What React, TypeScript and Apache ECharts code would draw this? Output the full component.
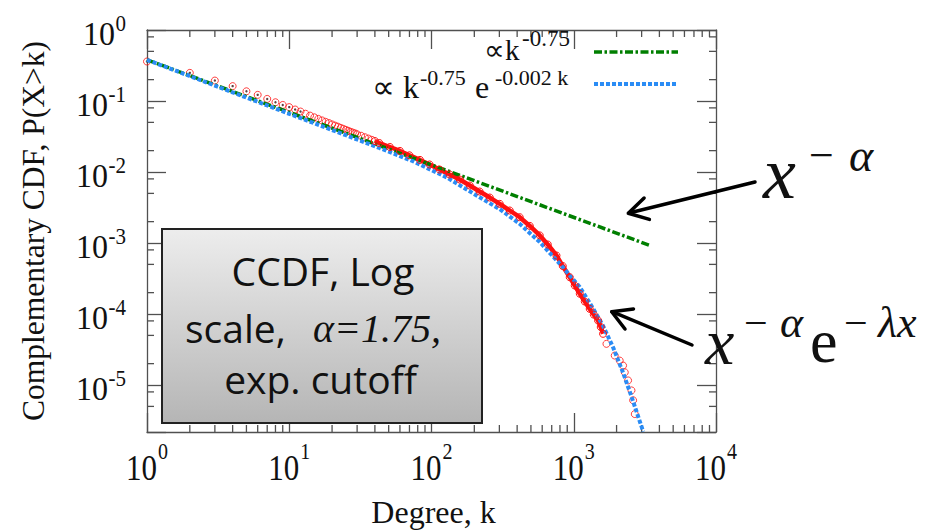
import { useEffect, useRef } from "react";
import * as echarts from "echarts";

// ---- axis extents and tick values ----
const X_MIN = 1;
const X_MAX = 10000;
const Y_MIN = 2.18e-6;
const Y_MAX = 1;

const xMajorTicks = [1, 10, 100, 1000, 10000];
const yMajorTicks = [1, 0.1, 0.01, 0.001, 1e-4, 1e-5];
const xMinorTicks = [2, 3, 4, 5, 6, 7, 8, 9, 20, 30, 40, 50, 60, 70, 80, 90, 200, 300, 400, 500, 600, 700, 800, 900, 2000, 3000, 4000, 5000, 6000, 7000, 8000, 9000];
const yMinorTicks = [0.8, 0.5, 0.2, 0.08, 0.05, 0.02, 0.008, 0.005, 0.002, 8e-4, 5e-4, 2e-4, 8e-5, 5e-5, 2e-5, 8e-6, 5e-6];

// ---- empirical CCDF (red circles) ----
const sparseDegree = [1, 2, 3, 4, 5, 6, 7, 8, 9, 10, 11, 12];
const sparseCcdf = [0.36, 0.249, 0.194, 0.162, 0.137, 0.122, 0.107, 0.096, 0.088, 0.082, 0.0759, 0.0711];

const chainDegree = [13, 14, 15, 16, 17, 18, 19, 20, 21, 22, 23, 24, 25, 26, 27, 28, 29, 30, 32, 34, 36, 38];
const chainCcdf = [0.0662, 0.0623, 0.0589, 0.056, 0.0533, 0.0509, 0.0489, 0.0468, 0.045, 0.0435, 0.0418, 0.0405, 0.0392, 0.038, 0.0368, 0.0359, 0.035, 0.034, 0.0324, 0.0309, 0.0296, 0.0284];

const denseDegree = [40, 43, 51, 60, 70, 83, 97, 114, 134, 158, 186, 218, 257, 302, 355, 417, 491, 577, 657, 756, 837, 937, 1016, 1102, 1195, 1295, 1382, 1482, 1548, 1607];
const denseCcdf = [0.0273, 0.0256, 0.0225, 0.0198, 0.0172, 0.0148, 0.01276, 0.01084, 0.00923, 0.00784, 0.00645, 0.00531, 0.00437, 0.00356, 0.00287, 0.00231, 0.00174, 0.00128, 9.53e-4, 6.67e-4, 4.74e-4, 3.3e-4, 2.52e-4, 1.93e-4, 1.5e-4, 1.18e-4, 9.8e-5, 8.1e-5, 6.56e-5, 5.26e-5];

const tailDegree = [1698, 1941, 2104, 2222, 2284, 2410, 2546, 2614, 2686];
const tailCcdf = [3.8e-5, 2.6e-5, 2.21e-5, 1.88e-5, 1.51e-5, 1.16e-5, 8.4e-6, 6.1e-6, 3.9e-6];

// ---- fitted curves ----
const powerDegree = [1, 3500];
const powerCcdf = [0.38, 9.1e-4];

const cutoffDegree = [1, 10, 25, 43, 74, 128, 218, 302, 417, 577, 798, 1102, 1367, 1607, 1890, 2220, 2545, 3080];
const cutoffCcdf = [0.38, 0.066, 0.033, 0.0218, 0.0142, 0.0084, 0.0044, 0.003, 0.00186, 0.00103, 5.1e-4, 2.4e-4, 1.2e-4, 6.8e-5, 3.4e-5, 1.5e-5, 6.9e-6, 2.2e-6];

// ---- styling ----
const SERIF = "Liberation Serif";
const SANS = "Open Sans";
const AXIS_COLOR = "#505050";
const INK = "#111111";
const RED = "#ff1010";
const GREEN = "#007f00";
const BLUE = "#2a8cf5";
const MINOR = 7;
const XB = 31; // x tick label base size
const XS = 20; // x tick label exponent size
const YB = 32;
const YS = 21;

const pairs = (xs: number[], ys: number[]) => xs.map((x, i) => [x, ys[i]]);
const expOf = (v: number) => String(Math.round(Math.log10(v)));
const emWidth = (s: string) => s.split("").reduce((a, c) => a + (c === "-" ? 0.333 : 0.5), 0);
const lineStyleAxis = { color: AXIS_COLOR, width: 1.3 };

const axisCommon = {
  type: "log",
  logBase: 10,
  gridIndex: 0,
  splitLine: { show: false },
  minorTick: { show: false },
  minorSplitLine: { show: false },
  axisLabel: { show: false },
  axisLine: { show: true, onZero: false, lineStyle: lineStyleAxis },
  axisTick: { show: true, inside: true, length: 19, lineStyle: lineStyleAxis },
};

const labelText = (x: number, y: number, text: string, size: number, align: string, scaleY: number) => ({
  type: "text",
  x,
  y,
  scaleY,
  silent: true,
  style: { text, fontSize: size, fontFamily: SERIF, fill: INK, align, verticalAlign: "middle" },
});

const txt = (x: number, y: number, text: string, size: number, family: string, italic = false, align = "left") => ({
  type: "text",
  x,
  y,
  z: 20,
  silent: true,
  style: {
    text,
    fontSize: size,
    fontFamily: family,
    fontStyle: italic ? "italic" : "normal",
    fill: INK,
    align,
    verticalAlign: "middle",
  },
});

function buildOption() {
  const redCircle = { color: "rgba(255,0,0,0)", borderColor: RED, borderWidth: 1 };
  const tickSt = { stroke: AXIS_COLOR, lineWidth: 1.3 };
  return {
    animation: false,
    grid: { left: 147, top: 30, width: 569, height: 402, containLabel: false, outerBoundsMode: "none" },
    xAxis: [
      { ...axisCommon, min: X_MIN, max: X_MAX, position: "bottom" },
      { ...axisCommon, min: X_MIN, max: X_MAX, position: "top" },
    ],
    yAxis: [
      { ...axisCommon, min: Y_MIN, max: Y_MAX, position: "left" },
      { ...axisCommon, min: Y_MIN, max: Y_MAX, position: "right" },
    ],
    series: [
      // x minor ticks (bottom + top)
      {
        type: "custom",
        silent: true,
        clip: false,
        data: pairs(xMinorTicks, xMinorTicks.map(() => Y_MIN)),
        encode: { x: 0, y: 1 },
        renderItem: (_p: any, api: any) => {
          const v = api.value(0);
          const b = api.coord([v, Y_MIN]);
          const t = api.coord([v, Y_MAX]);
          return {
            type: "group",
            children: [
              { type: "line", shape: { x1: b[0], y1: b[1], x2: b[0], y2: b[1] - MINOR }, style: tickSt },
              { type: "line", shape: { x1: t[0], y1: t[1], x2: t[0], y2: t[1] + MINOR }, style: tickSt },
            ],
          };
        },
      },
      // y minor ticks (left + right)
      {
        type: "custom",
        silent: true,
        clip: false,
        data: pairs(yMinorTicks.map(() => X_MIN), yMinorTicks),
        encode: { x: 0, y: 1 },
        renderItem: (_p: any, api: any) => {
          const v = api.value(1);
          const l = api.coord([X_MIN, v]);
          const r = api.coord([X_MAX, v]);
          return {
            type: "group",
            children: [
              { type: "line", shape: { x1: l[0], y1: l[1], x2: l[0] + MINOR, y2: l[1] }, style: tickSt },
              { type: "line", shape: { x1: r[0], y1: r[1], x2: r[0] - MINOR, y2: r[1] }, style: tickSt },
            ],
          };
        },
      },
      // x tick labels 10^n
      {
        type: "custom",
        silent: true,
        clip: false,
        data: pairs(xMajorTicks, xMajorTicks.map(() => Y_MIN)),
        encode: { x: 0, y: 1 },
        renderItem: (_p: any, api: any) => {
          const v = api.value(0);
          const p = api.coord([v, Y_MIN]);
          const e = expOf(v);
          const total = XB + emWidth(e) * XS + 1;
          const join = p[0] - total / 2 + XB;
          return {
            type: "group",
            children: [
              labelText(join, p[1] + 35.8, "10", XB, "right", 1.15),
              labelText(join + 1, p[1] + 19.5, e, XS, "left", 1.15),
            ],
          };
        },
      },
      // y tick labels 10^n
      {
        type: "custom",
        silent: true,
        clip: false,
        data: pairs(yMajorTicks.map(() => X_MIN), yMajorTicks),
        encode: { x: 0, y: 1 },
        renderItem: (_p: any, api: any) => {
          const v = api.value(1);
          const p = api.coord([X_MIN, v]);
          const e = expOf(v);
          const right = p[0] - 21;
          return {
            type: "group",
            children: [
              labelText(right - emWidth(e) * YS - 0.5, p[1] + 4, "10", YB, "right", 1.06),
              labelText(right, p[1] - 6, e, YS, "right", 1.06),
            ],
          };
        },
      },
      {
        type: "line",
        data: pairs(denseDegree, denseCcdf),
        symbol: "circle",
        symbolSize: 7,
        showSymbol: true,
        showAllSymbol: true,
        itemStyle: redCircle,
        lineStyle: { color: RED, width: 4.5 },
        emphasis: { disabled: true },
        silent: true,
      },
      {
        type: "scatter",
        data: pairs(sparseDegree, sparseCcdf).concat(pairs(chainDegree, chainCcdf), pairs(tailDegree, tailCcdf)),
        symbol: "circle",
        symbolSize: 7,
        itemStyle: redCircle,
        silent: true,
      },
      {
        type: "scatter",
        data: pairs(sparseDegree, sparseCcdf),
        symbol: "circle",
        symbolSize: 2.4,
        itemStyle: { color: "#3a1010" },
        silent: true,
      },
      {
        type: "line",
        data: pairs(powerDegree, powerCcdf),
        symbol: "none",
        lineStyle: { color: GREEN, width: 3.5, type: [8, 2.5, 2.5, 2.5] },
        silent: true,
      },
      {
        type: "line",
        data: pairs(cutoffDegree, cutoffCcdf),
        symbol: "none",
        lineStyle: { color: BLUE, width: 4, type: [4, 2] },
        silent: true,
      },
    ],
    graphic: [
      // axis titles
      {
        type: "text",
        x: 33,
        y: 231,
        rotation: Math.PI / 2,
        silent: true,
        style: { text: "Complementary CDF, P(X>k)", fontSize: 31.5, fontFamily: SERIF, fill: INK, align: "center", verticalAlign: "middle" },
      },
      txt(433.5, 512, "Degree, k", 32, SERIF, false, "center"),
      // legend (key)
      txt(484, 49.5, "∝k", 29, SERIF),
      txt(522, 38, "-0.75", 23, SERIF),
      { type: "line", z: 20, silent: true, shape: { x1: 594, y1: 52, x2: 678, y2: 52 }, style: { stroke: GREEN, lineWidth: 3.5, lineDash: [8, 2.5, 2.5, 2.5] } },
      txt(372, 87, "∝ k", 32, SERIF),
      txt(420, 77.5, "-0.75", 22, SERIF),
      txt(475, 87, "e", 32, SERIF),
      txt(495, 77.5, "-0.002 k", 22, SERIF),
      { type: "line", z: 20, silent: true, shape: { x1: 594, y1: 84, x2: 678, y2: 84 }, style: { stroke: BLUE, lineWidth: 4, lineDash: [4, 2] } },
      // annotation box
      {
        type: "rect",
        z: 15,
        silent: true,
        shape: { x: 162, y: 229, width: 320, height: 194 },
        style: {
          fill: new echarts.graphic.LinearGradient(0, 0, 0, 1, [
            { offset: 0, color: "#ededed" },
            { offset: 1, color: "#b5b5b5" },
          ]),
          stroke: "#222222",
          lineWidth: 2,
        },
      },
      txt(323, 270, "CCDF, Log", 39, SANS, false, "center"),
      txt(185, 327, "scale,", 39, SANS),
      txt(313, 328.5, "α=1.75,", 40, SERIF, true),
      txt(320.5, 378, "exp. cutoff", 39, SANS, false, "center"),
      // arrows
      { type: "line", z: 20, silent: true, shape: { x1: 755, y1: 182, x2: 629, y2: 213 }, style: { stroke: "#000", lineWidth: 3.5, lineCap: "round" } },
      { type: "polyline", z: 20, silent: true, shape: { points: [[649.4, 219.4], [628.3, 213.3], [644.1, 198]] }, style: { stroke: "#000", lineWidth: 3.5, lineCap: "round", lineJoin: "round", fill: null } },
      { type: "line", z: 20, silent: true, shape: { x1: 692, y1: 345, x2: 612, y2: 311.7 }, style: { stroke: "#000", lineWidth: 3.5, lineCap: "round" } },
      { type: "polyline", z: 20, silent: true, shape: { points: [[633.5, 308.9], [611.7, 311.7], [625, 329]] }, style: { stroke: "#000", lineWidth: 3.5, lineCap: "round", lineJoin: "round", fill: null } },
      // math labels: x^{-alpha}
      txt(763, 173, "x", 74, SERIF, true),
      txt(809, 155, "−", 44, SERIF, false),
      txt(849, 155, "α", 46, SERIF, true),
      // x^{-alpha} e^{-lambda x}
      txt(705, 341, "x", 66, SERIF, true),
      txt(744, 322.5, "−", 42, SERIF, false),
      txt(780, 322.5, "α", 44, SERIF, true),
      txt(810, 341, "e", 62, SERIF),
      txt(844, 322.5, "−", 42, SERIF, false),
      txt(878, 322.5, "λx", 44, SERIF, true),
    ],
  };
}

export default function App() {
  const ref = useRef<HTMLDivElement>(null);
  useEffect(() => {
    if (!ref.current) return;
    const chart = echarts.init(ref.current, null, { renderer: "svg" });
    chart.setOption(buildOption() as any);
    return () => chart.dispose();
  }, []);
  return <div ref={ref} style={{ position: "fixed", left: 0, top: 0, width: 951, height: 530, background: "#fff" }} />;
}
